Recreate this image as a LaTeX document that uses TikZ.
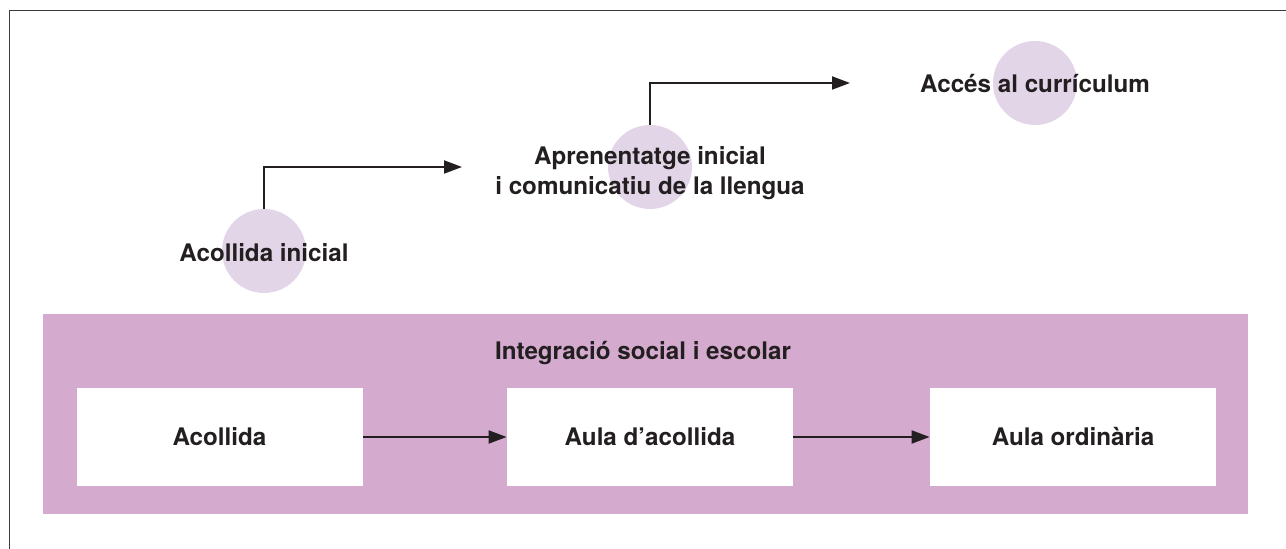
\documentclass[tikz,border=0pt]{standalone}
\usepackage{fontspec}
\setmainfont{TeX Gyre Heros}
\usepackage{tikz}
\usetikzlibrary{arrows.meta}

\definecolor{bandpink}{HTML}{D4AACE}
\definecolor{circlelila}{HTML}{E2D5E8}
\definecolor{inkdark}{HTML}{231F20}
\definecolor{framegray}{HTML}{3C3C3C}

\begin{document}
\begin{tikzpicture}[
			x=0.5pt, y=-0.5pt,
			every node/.style={font=\fontsize{12.1}{15}\selectfont\bfseries, text=inkdark},
			stage/.style={circle, fill=circlelila, minimum size=42pt, inner sep=0pt},
			label/.style={align=center, inner sep=0pt},
			band/.style={rectangle, fill=bandpink, minimum width=602.5pt, minimum height=100pt, inner sep=0pt},
			room/.style={rectangle, fill=white, minimum width=143pt, minimum height=49pt, inner sep=0pt},
			flow/.style={draw=inkdark, line width=1pt, -{Triangle[length=9pt, width=6.5pt]}},
			]
			\useasboundingbox (0,0) rectangle (1286,549);
			%Frame
				\draw[framegray, line width=0.9pt] (9.5,549) -- (9.5,10.5) -- (1286,10.5);

			%Nodes
				\node[stage]		(circ-1)		at (264,251)		{};
				\node[stage]		(circ-2)		at (650,167)		{};
				\node[stage]		(circ-3)		at (1035,83)		{};
				\node[label]		(acollida-inicial)	at (264,253)	{Acollida inicial};
				\node[label]		(aprenentatge)	at (650,173)		{Aprenentatge inicial\\i comunicatiu de la llengua};
				\node[label]		(acces)		at (1035,84)		{Accés al currículum};
				\coordinate		(tip-1)		at (462,167);
				\coordinate		(tip-2)		at (850,83);

				\node[band]		(integracio)		at (645.5,414)	{};
				\node[label]		(integracio-title)	at (643,353)	{Integració social i escolar};
				\node[room]		(room-1)		at (219.5,437)	{Acollida};
				\node[room]		(room-2)		at (650,437)		{Aula d’acollida};
				\node[room]		(room-3)		at (1073,437)	{Aula ordinària};

			%Lines
				\draw[flow] (circ-1.north) |- (tip-1);
				\draw[flow] (circ-2.north) |- (tip-2);
				\draw[flow] (room-1.east) -- (room-2.west);
				\draw[flow] (room-2.east) -- (room-3.west);
		\end{tikzpicture}
\end{document}
